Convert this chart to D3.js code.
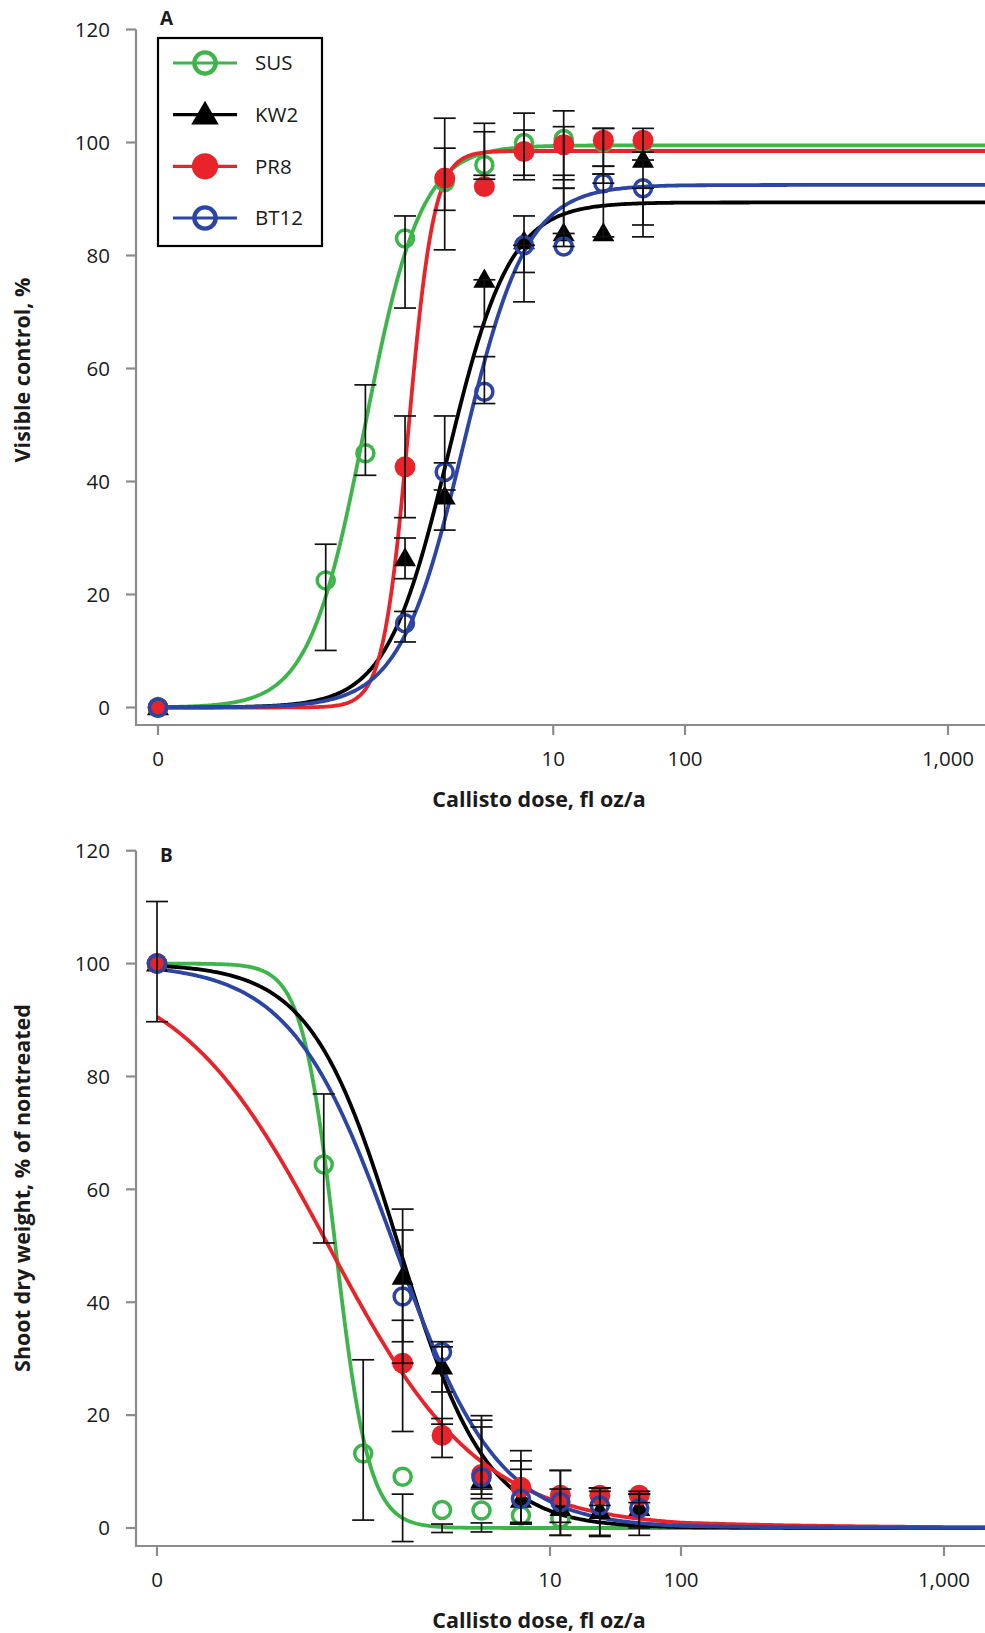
<!DOCTYPE html>
<html>
<head>
<meta charset="utf-8">
<script src="https://cdn.jsdelivr.net/npm/d3@7/dist/d3.min.js"></script>
<style>
  html, body { margin: 0; padding: 0; background: #fff; }
  svg { display: block; }
  text { font-family: "Open Sans", "DejaVu Sans", sans-serif; fill: #1a1a1a; }
</style>
</head>
<body>
<script>
// ---------------- DATA ----------------
const doses = [0, 0.1875, 0.375, 0.75, 1.5, 3, 6, 12, 24, 48];
const seriesNames = ["SUS", "KW2", "PR8", "BT12"];
const xTickValues = [0, 10, 100, 1000];
const yTickValues = [0, 20, 40, 60, 80, 100, 120];

// Panel A: visible control, %
const aSUS  = [0, 22.5, 45, 83, 93, 96, 99.9, 100.6, 100, 100];
const aKW2  = [0, null, null, 26.4, 37.3, 75.7, 82.5, 83.9, 83.9, 96.9];
const aPR8  = [0, null, null, 42.6, 93.7, 92.2, 98.4, 99.6, 100.4, 100.4];
const aBT12 = [0, null, null, 14.9, 41.7, 55.9, 81.8, 81.6, 92.8, 91.9];
// error bars [low, high]
const aSUSerr  = [null, [10.1, 28.9], [41.1, 57.1], [70.7, 87], [88, 99], [93.5, 101.9], [93.4, 102.2], [93.4, 105.6], [94.4, 102.5], null];
const aKW2err  = [null, null, null, [22.8, 30], [31.4, 43.3], [67.4, 75.7], [77, 87], [83.9, 91.9], [83.3, 94.4], [85.4, 96.9]];
const aPR8err  = [null, null, null, [33.6, 51.6], [81, 104.3], [94.2, 103.4], [94.2, 105.2], [91.9, 102.8], [95.8, 102.5], [98.3, 102.5]];
const aBT12err = [null, null, null, [11.6, 17], [38.5, 51.6], [53.8, 62.1], [71.8, 81.8], [81.6, 94.2], [92.8, 95.8], [83.3, 91.9]];

// Panel B: shoot dry weight, % of nontreated
const bSUS  = [100, 64.4, 13.2, 9.1, 3.2, 3.1, 2.2, 1.7, null, null];
const bKW2  = [100, null, null, 44.5, 28.6, 8.5, 5.0, 3.5, 3.0, 3.5];
const bPR8  = [100, null, null, 29.2, 16.4, 9.5, 7.2, 5.8, 5.8, 5.8];
const bBT12 = [100, null, null, 41, 31.2, 9.0, 5.2, 4.6, 4.0, 3.5];
const bSUSerr  = [[89.7, 111], [50.5, 76.9], [1.4, 29.8], [-2.4, 6.0], [-0.8, 0.7], [-0.7, 0.9], null, null, null, null];
const bKW2err  = [null, null, null, [33, 56.5], [24.1, 33], [5.2, 17.9], [0.7, 10.4], [-1.3, 6.9], [-1.5, 7.1], [-1.3, 6]];
const bPR8err  = [null, null, null, [17.1, 36.8], [12.5, 19.4], [6.0, 19.9], [1.0, 13.7], [1.0, 10.2], [4.0, 7.1], [4.5, 6.5]];
const bBT12err = [null, null, null, [29.2, 52.8], [18.4, 32.1], [6.9, 19.1], [0.7, 11.9], [-1.3, 10.2], [-1.3, 6.5], [0, 6]];

// Fitted log-logistic dose-response parameters (upper limit, ED50, slope)
const fitAUpper = [99.5, 89.4, 98.5, 92.5];
const fitAED50  = [0.372, 1.59, 0.796, 2.07];
const fitASlope = [2.05, 1.85, 4.5, 1.8];
const fitBUpper = [100, 100, 100, 100];
const fitBED50  = [0.23, 0.70, 0.204, 0.65];
const fitBSlope = [3.4, 1.3, 0.75, 1.1];

// ---------------- STYLE ----------------
const colors = { SUS: "#3db54a", KW2: "#000000", PR8: "#e8232a", BT12: "#2c45a5" };
const markers = { SUS: "open", KW2: "triangle", PR8: "filled", BT12: "open" };
const axisGray = "#8c8c8c";
const zeroDose = 0.01; // position where dose 0 is drawn on the log axis

const W = 985, H = 1633;
const svg = d3.select("body").append("svg").attr("width", W).attr("height", H)
  .attr("viewBox", `0 0 ${W} ${H}`);
svg.append("rect").attr("width", W).attr("height", H).attr("fill", "#fff");

function drawPanel(cfg) {
  const g = svg.append("g");
  const x = d3.scaleLog().domain([zeroDose, 100, 1000]).range(cfg.xRange);
  const y = d3.scaleLinear().domain([0, 120]).range([cfg.y0, cfg.y120]);
  const xd = d => x(d === 0 ? zeroDose : d);
  const axX = cfg.axisX;   // y-axis line x
  const axY = cfg.axisY;   // x-axis line y

  // axes lines
  g.append("line").attr("x1", axX).attr("x2", axX).attr("y1", y(120)).attr("y2", axY + 1)
    .attr("stroke", axisGray).attr("stroke-width", 2.2);
  g.append("line").attr("x1", axX - 1).attr("x2", W).attr("y1", axY).attr("y2", axY)
    .attr("stroke", axisGray).attr("stroke-width", 2.2);

  // y ticks
  yTickValues.forEach(v => {
    g.append("line").attr("x1", axX - 10).attr("x2", axX).attr("y1", y(v)).attr("y2", y(v))
      .attr("stroke", axisGray).attr("stroke-width", 2.2);
    g.append("text").attr("x", axX - 26).attr("y", y(v)).attr("dy", "0.36em")
      .attr("text-anchor", "end").style("font-size", "20.5px").text(v);
  });
  // x ticks
  xTickValues.forEach(v => {
    const px = xd(v);
    g.append("line").attr("x1", px).attr("x2", px).attr("y1", axY).attr("y2", axY + 10)
      .attr("stroke", axisGray).attr("stroke-width", 2.2);
    g.append("text").attr("x", px).attr("y", axY + 41)
      .attr("text-anchor", "middle").style("font-size", "20.5px").text(d3.format(",")(v));
  });

  // axis titles
  g.append("text").attr("x", 539).attr("y", axY + 82).attr("text-anchor", "middle")
    .style("font-size", "21.5px").style("font-weight", "700").text("Callisto dose, fl oz/a");
  g.append("text").attr("transform", `translate(30,${cfg.yTitleY}) rotate(-90)`)
    .attr("text-anchor", "middle").style("font-size", "21.5px").style("font-weight", "700")
    .text(cfg.yTitle);
  // panel letter
  g.append("text").attr("x", 160).attr("y", cfg.letterY).style("font-size", "19px")
    .style("font-weight", "700").text(cfg.letter);

  // fitted curves
  const dMax = x.invert(W);
  const nPts = 400;
  const logMin = Math.log(zeroDose), logMax = Math.log(dMax);
  const line = d3.line().x(d => x(d[0])).y(d => y(d[1])).curve(d3.curveLinear);
  seriesNames.forEach((s, i) => {
    const up = cfg.fitUpper[i], e = cfg.fitED50[i], b = cfg.fitSlope[i];
    const pts = d3.range(nPts + 1).map(k => {
      const d = Math.exp(logMin + (logMax - logMin) * k / nPts);
      const z = cfg.increasing ? -b * (Math.log(d) - Math.log(e)) : b * (Math.log(d) - Math.log(e));
      return [d, up / (1 + Math.exp(z))];
    });
    g.append("path").attr("d", line(pts)).attr("fill", "none")
      .attr("stroke", colors[s]).attr("stroke-width", 3.8).attr("stroke-linejoin", "round");
  });

  // markers
  seriesNames.forEach((s, i) => {
    const vals = cfg.values[i];
    doses.forEach((d, j) => {
      const v = vals[j];
      if (v === null) return;
      drawMarker(g, markers[s], colors[s], xd(d), y(v), 1);
    });
  });

  // error bars
  seriesNames.forEach((s, i) => {
    const errs = cfg.errors[i];
    doses.forEach((d, j) => {
      const e = errs[j];
      if (!e) return;
      const px = xd(d);
      const eg = g.append("g").attr("stroke", "#111").attr("stroke-width", 1.7);
      eg.append("line").attr("x1", px).attr("x2", px).attr("y1", y(e[0])).attr("y2", y(e[1]));
      [e[0], e[1]].forEach(v => eg.append("line").attr("x1", px - 11).attr("x2", px + 11)
        .attr("y1", y(v)).attr("y2", y(v)));
    });
  });
  return g;
}

function drawMarker(g, type, color, cx, cy, scale) {
  if (type === "open") {
    g.append("circle").attr("cx", cx).attr("cy", cy).attr("r", 8.5 * scale)
      .attr("fill", "none").attr("stroke", color).attr("stroke-width", 3.5 * scale);
  } else if (type === "filled") {
    g.append("circle").attr("cx", cx).attr("cy", cy).attr("r", 10.5 * scale).attr("fill", color);
  } else {
    g.append("path").attr("d", d3.symbol(d3.symbolTriangle, 210 * scale * scale)())
      .attr("transform", `translate(${cx},${cy + 1.5 * scale})`).attr("fill", color);
  }
}

// Panel A
drawPanel({
  xRange: [158, 685, 948], y0: 707.5, y120: 29.5, axisX: 136, axisY: 725,
  values: [aSUS, aKW2, aPR8, aBT12], errors: [aSUSerr, aKW2err, aPR8err, aBT12err],
  fitUpper: fitAUpper, fitED50: fitAED50, fitSlope: fitASlope, increasing: true,
  yTitle: "Visible control, %", yTitleY: 370, letter: "A", letterY: 25
});

// Panel B
drawPanel({
  xRange: [157, 681, 944], y0: 1528, y120: 850.7, axisX: 136, axisY: 1546,
  values: [bSUS, bKW2, bPR8, bBT12], errors: [bSUSerr, bKW2err, bPR8err, bBT12err],
  fitUpper: fitBUpper, fitED50: fitBED50, fitSlope: fitBSlope, increasing: false,
  yTitle: "Shoot dry weight, % of nontreated", yTitleY: 1188, letter: "B", letterY: 862
});

// Legend (panel A)
const lg = svg.append("g");
lg.append("rect").attr("x", 158).attr("y", 38).attr("width", 164).attr("height", 208)
  .attr("fill", "#fff").attr("stroke", "#000").attr("stroke-width", 2.2);
const legendY = d3.scalePoint().domain(seriesNames).range([63, 218]);
seriesNames.forEach(s => {
  const yy = legendY(s);
  lg.append("line").attr("x1", 173).attr("x2", 237).attr("y1", yy).attr("y2", yy)
    .attr("stroke", colors[s]).attr("stroke-width", 3.2);
  drawMarker(lg, markers[s], colors[s], 205, yy, 1.25);
  lg.append("text").attr("x", 255).attr("y", yy).attr("dy", "0.36em")
    .style("font-size", "20.5px").text(s);
});
</script>
</body>
</html>
